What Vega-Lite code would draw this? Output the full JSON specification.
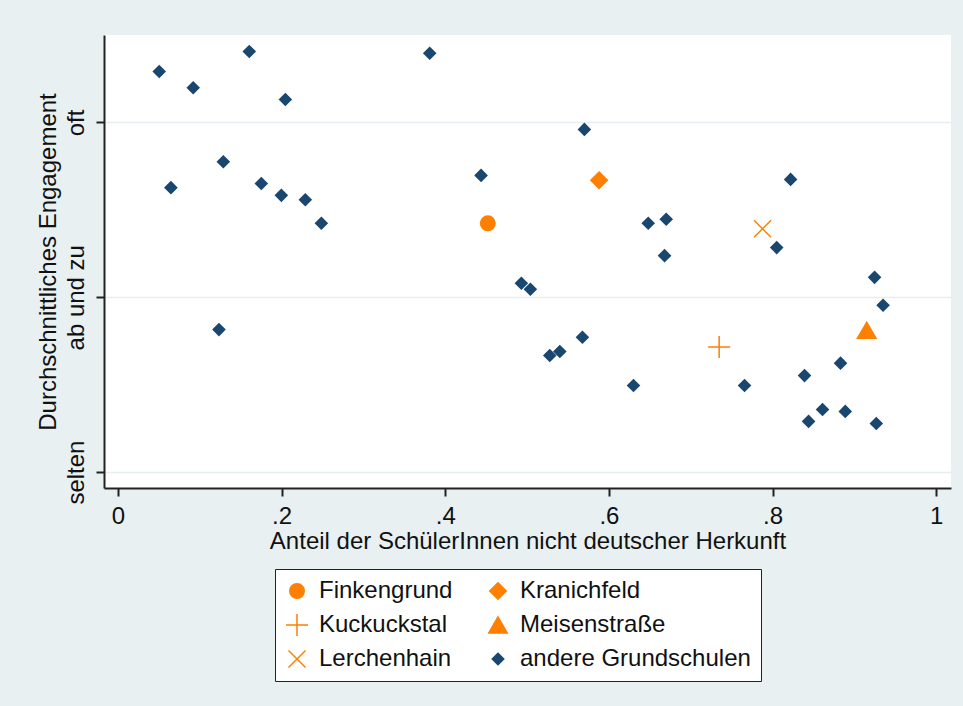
{
  "$schema": "https://vega.github.io/schema/vega-lite/v6.json",
  "width": 847,
  "height": 453,
  "autosize": {"type": "none"},
  "padding": {"left": 104, "top": 35, "right": 12, "bottom": 218},
  "background": "#e9f0f2",
  "view": {"fill": "white", "stroke": null},
  "config": {
    "font": "Liberation Sans",
    "axis": {"labelFont": "Liberation Sans", "titleFont": "Liberation Sans", "labelColor": "#111111", "titleColor": "#111111", "titleFontWeight": "normal"},
    "legend": {"labelFont": "Liberation Sans"}
  },
  "data": {
    "values": [
      {"anteil": 0.0505, "engagement": 3.291, "schule": "andere Grundschulen"},
      {"anteil": 0.092, "engagement": 3.198, "schule": "andere Grundschulen"},
      {"anteil": 0.1605, "engagement": 3.406, "schule": "andere Grundschulen"},
      {"anteil": 0.2046, "engagement": 3.131, "schule": "andere Grundschulen"},
      {"anteil": 0.381, "engagement": 3.396, "schule": "andere Grundschulen"},
      {"anteil": 0.1288, "engagement": 2.775, "schule": "andere Grundschulen"},
      {"anteil": 0.0648, "engagement": 2.627, "schule": "andere Grundschulen"},
      {"anteil": 0.1752, "engagement": 2.651, "schule": "andere Grundschulen"},
      {"anteil": 0.1997, "engagement": 2.583, "schule": "andere Grundschulen"},
      {"anteil": 0.229, "engagement": 2.558, "schule": "andere Grundschulen"},
      {"anteil": 0.2486, "engagement": 2.423, "schule": "andere Grundschulen"},
      {"anteil": 0.1235, "engagement": 1.815, "schule": "andere Grundschulen"},
      {"anteil": 0.4438, "engagement": 2.697, "schule": "andere Grundschulen"},
      {"anteil": 0.57, "engagement": 2.96, "schule": "andere Grundschulen"},
      {"anteil": 0.648, "engagement": 2.423, "schule": "andere Grundschulen"},
      {"anteil": 0.67, "engagement": 2.446, "schule": "andere Grundschulen"},
      {"anteil": 0.668, "engagement": 2.238, "schule": "andere Grundschulen"},
      {"anteil": 0.822, "engagement": 2.674, "schule": "andere Grundschulen"},
      {"anteil": 0.805, "engagement": 2.284, "schule": "andere Grundschulen"},
      {"anteil": 0.493, "engagement": 2.08, "schule": "andere Grundschulen"},
      {"anteil": 0.504, "engagement": 2.046, "schule": "andere Grundschulen"},
      {"anteil": 0.9246, "engagement": 2.114, "schule": "andere Grundschulen"},
      {"anteil": 0.935, "engagement": 1.954, "schule": "andere Grundschulen"},
      {"anteil": 0.5676, "engagement": 1.771, "schule": "andere Grundschulen"},
      {"anteil": 0.54, "engagement": 1.69, "schule": "andere Grundschulen"},
      {"anteil": 0.5277, "engagement": 1.667, "schule": "andere Grundschulen"},
      {"anteil": 0.63, "engagement": 1.495, "schule": "andere Grundschulen"},
      {"anteil": 0.7657, "engagement": 1.495, "schule": "andere Grundschulen"},
      {"anteil": 0.839, "engagement": 1.552, "schule": "andere Grundschulen"},
      {"anteil": 0.883, "engagement": 1.623, "schule": "andere Grundschulen"},
      {"anteil": 0.844, "engagement": 1.29, "schule": "andere Grundschulen"},
      {"anteil": 0.861, "engagement": 1.358, "schule": "andere Grundschulen"},
      {"anteil": 0.8888, "engagement": 1.347, "schule": "andere Grundschulen"},
      {"anteil": 0.9267, "engagement": 1.278, "schule": "andere Grundschulen"},
      {"anteil": 0.452, "engagement": 2.423, "schule": "Finkengrund"},
      {"anteil": 0.588, "engagement": 2.669, "schule": "Kranichfeld"},
      {"anteil": 0.7347, "engagement": 1.716, "schule": "Kuckuckstal"},
      {"anteil": 0.915, "engagement": 1.811, "schule": "Meisenstraße"},
      {"anteil": 0.7877, "engagement": 2.392, "schule": "Lerchenhain"}
    ]
  },
  "mark": {"type": "point", "filled": false, "strokeWidth": 1.5, "opacity": 1},
  "encoding": {
    "x": {
      "field": "anteil",
      "type": "quantitative",
      "scale": {"domain": [-0.017, 1.018], "nice": false, "zero": false},
      "axis": {
        "values": [0, 0.2, 0.4, 0.6, 0.8, 1],
        "labelExpr": "datum.value == 0 ? '0' : datum.value == 1 ? '1' : '.' + round(datum.value * 10)",
        "grid": false,
        "domainColor": "#222222",
        "domainWidth": 2,
        "tickColor": "#222222",
        "tickWidth": 2,
        "tickSize": 8,
        "labelFontSize": 24,
        "labelPadding": 8,
        "labelFlush": false,
        "title": "Anteil der SchülerInnen nicht deutscher Herkunft",
        "titleFontSize": 24,
        "titlePadding": 1
      }
    },
    "y": {
      "field": "engagement",
      "type": "quantitative",
      "scale": {"domain": [0.909, 3.5], "nice": false, "zero": false},
      "axis": {
        "values": [1, 2, 3],
        "labelExpr": "datum.value == 1 ? 'selten' : datum.value == 2 ? 'ab und zu' : 'oft'",
        "grid": true,
        "gridColor": "#e6eef0",
        "gridWidth": 1.5,
        "domainColor": "#222222",
        "domainWidth": 2,
        "tickColor": "#222222",
        "tickWidth": 2,
        "tickSize": 8,
        "labelAngle": -90,
        "labelFontSize": 24,
        "labelPadding": 8,
        "labelFlush": false,
        "title": "Durchschnittliches Engagement",
        "titleFontSize": 24,
        "titlePadding": 4
      }
    },
    "shape": {
      "field": "schule",
      "type": "nominal",
      "scale": {
        "domain": ["Finkengrund", "Kuckuckstal", "Lerchenhain", "Kranichfeld", "Meisenstraße", "andere Grundschulen"],
        "range": ["circle", "M-1,0L1,0M0,-1L0,1", "M-1,-1L1,1M-1,1L1,-1", "diamond", "triangle-up", "diamond"]
      },
      "legend": {
        "title": null,
        "orient": "none",
        "legendX": 171,
        "legendY": 534,
        "columns": 2,
        "columnPadding": 32,
        "rowPadding": 8,
        "padding": 10,
        "labelFontSize": 24,
        "labelColor": "#111111",
        "labelOffset": 10,
        "labelLimit": 400,
        "strokeColor": "#222222",
        "fillColor": "white",
        "symbolStrokeWidth": 1.5
      }
    },
    "stroke": {
      "field": "schule",
      "type": "nominal",
      "scale": {
        "domain": ["Finkengrund", "Kuckuckstal", "Lerchenhain", "Kranichfeld", "Meisenstraße", "andere Grundschulen"],
        "range": ["#ff7f00", "#ff7f00", "#ff7f00", "#ff7f00", "#ff7f00", "#1a476f"]
      }
    },
    "fill": {
      "field": "schule",
      "type": "nominal",
      "scale": {
        "domain": ["Finkengrund", "Kuckuckstal", "Lerchenhain", "Kranichfeld", "Meisenstraße", "andere Grundschulen"],
        "range": ["#ff7f00", "transparent", "transparent", "#ff7f00", "#ff7f00", "#1a476f"]
      }
    },
    "size": {
      "field": "schule",
      "type": "nominal",
      "scale": {
        "type": "ordinal",
        "domain": ["Finkengrund", "Kuckuckstal", "Lerchenhain", "Kranichfeld", "Meisenstraße", "andere Grundschulen"],
        "range": [210, 484, 289, 272, 342, 132]
      }
    }
  }
}
